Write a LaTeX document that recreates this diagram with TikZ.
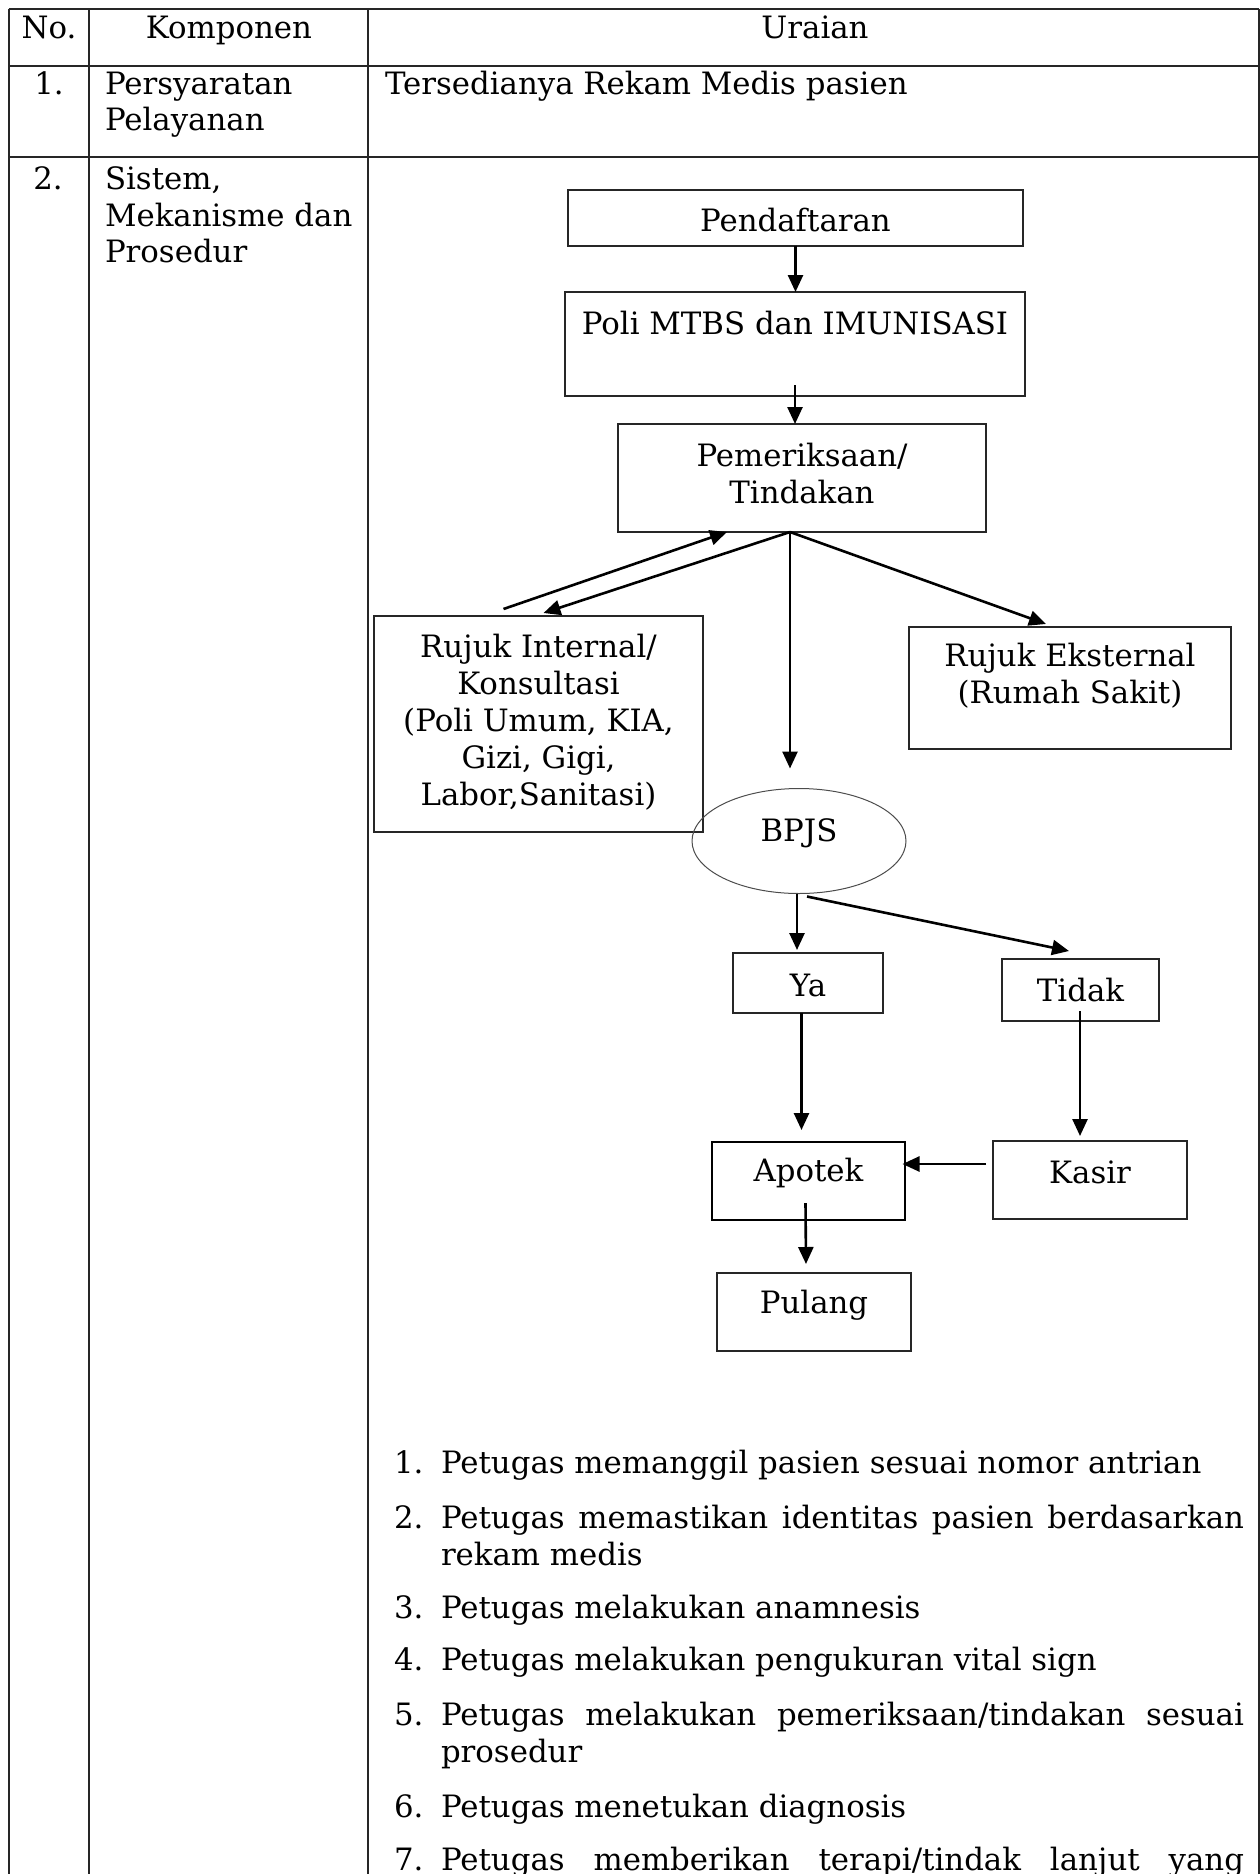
\documentclass[tikz,border=0pt]{standalone}
\usepackage{fontspec}
\setmainfont{DejaVu Serif}
\usetikzlibrary{arrows.meta,shapes.geometric}

\begin{document}
\begin{tikzpicture}[x=1pt,y=-1pt,
  every node/.style={font=\fontsize{30.8}{37}\selectfont, inner sep=0pt, outer sep=0pt},
  rule/.style={line width=2pt, draw=black!85},
  box/.style={draw=black!85, line width=1.6pt, rectangle},
  arr/.style={line width=2.6pt, -{Triangle[length=17pt,width=15pt]}},
  cell/.style={anchor=base west},
  mid/.style={anchor=base},
]
\useasboundingbox (0,0) rectangle (1260,1874);

% table rules
\draw[rule] (8.5,8.5) -- (1259,8.5);
\draw[rule] (8.5,65.5) -- (1259,65.5);
\draw[rule] (8.5,157.3) -- (1259,157.3);
\draw[rule] (8.5,8.5) -- (8.5,1880);
\draw[rule] (89.3,8.5) -- (89.3,1880);
\draw[rule] (368.3,8.5) -- (368.3,1880);
\draw[rule] (1259,8.5) -- (1259,1880);

% header row
\node[mid] (hNo) at (49,38) {No.};
\node[mid] (hKomp) at (229,38) {Komponen};
\node[mid] (hUr) at (815,38) {Uraian};

% row 1
\node[mid] (n1) at (49,94) {1.};
\node[cell] (k1a) at (105,94) {Persyaratan};
\node[cell] (k1b) at (105,130) {Pelayanan};
\node[cell] (u1) at (385,94) {Tersedianya Rekam Medis pasien};

% row 2
\node[mid] (n2) at (48,189) {2.};
\node[cell] (k2a) at (105,189) {Sistem,};
\node[cell] (k2b) at (105,226) {Mekanisme dan};
\node[cell] (k2c) at (105,262) {Prosedur};

% flow chart boxes
\node[box, minimum width=455pt, minimum height=56pt] (pend) at (795.5,218) {};
\node[box, minimum width=460pt, minimum height=104pt] (poli) at (795,344) {};
\node[box, minimum width=368pt, minimum height=108pt] (pem) at (802,478) {};
\node[box, minimum width=329pt, minimum height=216pt] (ri) at (538.5,724) {};
\node[box, minimum width=322pt, minimum height=122pt] (re) at (1070,688) {};
\node[draw=black!70, line width=1pt, ellipse, minimum width=214pt, minimum height=105pt] (bpjs) at (799,841) {};
\node[box, minimum width=150pt, minimum height=60pt] (ya) at (808,983) {};
\node[box, minimum width=157pt, minimum height=62pt] (tidak) at (1080.5,990) {};
\node[box, draw=black, line width=2.2pt, minimum width=193pt, minimum height=78pt] (apotek) at (808.5,1181) {};
\node[box, minimum width=194pt, minimum height=78pt] (kasir) at (1090,1180) {};
\node[box, minimum width=194pt, minimum height=78pt] (pulang) at (814,1312) {};

% box labels
\node (pendT) at ([yshift=-2pt]pend.center) {Pendaftaran};
\node (poliT) at ([yshift=21pt]poli.center) {Poli MTBS dan IMUNISASI};
\node[align=center] (pemT) at ([yshift=4pt]pem.center) {Pemeriksaan/\\Tindakan};
\node[align=center] (riT) at ([yshift=2pt]ri.center) {Rujuk Internal/\\Konsultasi\\(Poli Umum, KIA,\\Gizi, Gigi,\\Labor,Sanitasi)};
\node[align=center] (reT) at ([yshift=12pt]re.center) {Rujuk Eksternal\\(Rumah Sakit)};
\node (bpjsT) at ([yshift=8pt]bpjs.center) {BPJS};
\node (yaT) at ([yshift=-2pt]ya.center) {Ya};
\node (tidakT) at (tidak.center) {Tidak};
\node (apotekT) at ([yshift=8pt]apotek.center) {Apotek};
\node (kasirT) at ([yshift=8pt]kasir.center) {Kasir};
\node (pulangT) at ([yshift=7pt]pulang.center) {Pulang};

% connectors
\coordinate (fork) at ([xshift=-12pt]pem.south);
\coordinate (pemOut) at ([xshift=-12pt,yshift=-236.5pt]pem.south);
\draw[arr] (pend.south) -- (pend.south |- poli.north);
\coordinate (poliOut) at ([yshift=11pt]poli.south);
\draw[arr] (poliOut) -- (poliOut |- pem.north);
\draw[arr] (fork) -- (pemOut);
\draw[arr] (fork) -- ([xshift=-24pt,yshift=3pt]re.north);
\draw[arr] (fork) -- ([xshift=5pt,yshift=3pt]ri.north);
\draw[arr] ([xshift=-35pt,yshift=7pt]ri.north) -- ([xshift=-75pt]pem.south);
\draw[arr] ([xshift=-2pt]bpjs.south) -- ([xshift=-11pt,yshift=3pt]ya.north);
\draw[arr] ([xshift=8pt,yshift=-3pt]bpjs.south) -- ([xshift=-11.5pt,yshift=8pt]tidak.north);
\draw[arr] ([xshift=-6.5pt]ya.south) -- ([xshift=-7pt,yshift=12pt]apotek.north);
\draw[arr] ([xshift=-0.5pt,yshift=10pt]tidak.south) -- ([xshift=-10pt,yshift=5pt]kasir.north);
\draw[arr] ([xshift=-7pt,yshift=16pt]kasir.west) -- ([xshift=-2.5pt,yshift=17pt]apotek.east);
\draw[arr] ([xshift=-3pt,yshift=17pt]apotek.south) -- ([xshift=-8pt,yshift=9pt]pulang.north);

% numbered procedure
\node[cell] (l1n) at (394,1473) {1.};
\node[cell] (l1) at (441,1473) {Petugas memanggil pasien sesuai nomor antrian};
\node[cell] (l2n) at (394,1528) {2.};
\node[cell] (l2) at (441,1528) {\makebox[803pt][s]{Petugas memastikan identitas pasien berdasarkan}};
\node[cell] (l2b) at (441,1565) {rekam medis};
\node[cell] (l3n) at (394,1618) {3.};
\node[cell] (l3) at (441,1618) {Petugas melakukan anamnesis};
\node[cell] (l4n) at (394,1670) {4.};
\node[cell] (l4) at (441,1670) {Petugas melakukan pengukuran vital sign};
\node[cell] (l5n) at (394,1725) {5.};
\node[cell] (l5) at (441,1725) {\makebox[803pt][s]{Petugas melakukan pemeriksaan/tindakan sesuai}};
\node[cell] (l5b) at (441,1762) {prosedur};
\node[cell] (l6n) at (394,1817) {6.};
\node[cell] (l6) at (441,1817) {Petugas menetukan diagnosis};
\node[cell] (l7n) at (394,1870) {7.};
\node[cell] (l7) at (441,1870) {\makebox[803pt][s]{Petugas memberikan terapi/tindak lanjut yang}};
\end{tikzpicture}
\end{document}
